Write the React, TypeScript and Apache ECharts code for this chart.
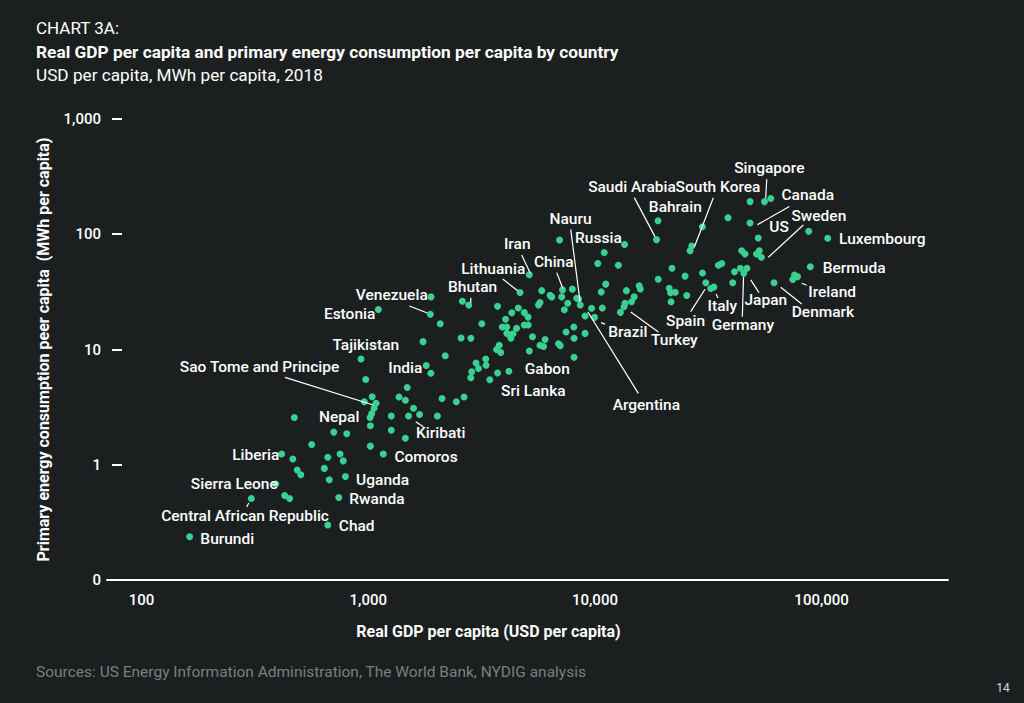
import React, { useEffect, useRef } from "react";
import * as echarts from "echarts";

// ---- data ----
const labeledCountries = [
  "Burundi", "Central African Republic", "Sierra Leone", "Liberia", "Chad", "Rwanda", "Uganda",
  "Comoros", "Nepal", "Sao Tome and Principe", "Kiribati", "Tajikistan", "India", "Estonia",
  "Venezuela", "Bhutan", "Lithuania", "Iran", "China", "Nauru", "Russia", "Gabon", "Sri Lanka",
  "Argentina", "Brazil", "Turkey", "Saudi Arabia", "Bahrain", "South Korea", "Singapore", "Canada",
  "US", "Sweden", "Luxembourg", "Bermuda", "Ireland", "Denmark", "Japan", "Germany", "Italy", "Spain",
];
const labeledGdp = [
  163, 305, 391, 415, 663, 741, 793,
  1165, 1019, 1082, 1506, 929, 1802, 1108,
  1879, 2776, 4674, 5135, 7196, 8612, 13510, 8088, 4171,
  9045, 9958, 13580, 18690, 18980, 26730, 55990, 48330,
  52520, 54200, 106400, 89170, 78300, 61660, 46870, 45380, 33460, 30840,
];
const labeledEnergy = [
  0.237, 0.51, 0.68, 1.24, 0.30, 0.52, 0.79,
  1.24, 2.57, 3.41, 2.65, 8.27, 7.26, 22.2,
  20.2, 24.3, 31.2, 44.6, 32.9, 24.3, 81.5, 8.55, 6.47,
  19.5, 19.0, 25.2, 89.8, 131, 79.1, 192, 125,
  92.9, 63.1, 92.3, 52.3, 42.9, 38.0, 50.7, 45.9, 34.9, 38.0,
];
const otherGdp = [
  428, 450, 465, 486, 504, 472, 563, 640, 663, 751, 776, 673, 705, 804, 1022, 1022, 1036, 1061,
  961, 1041, 975, 1264, 1264, 1367, 1458, 1486, 1584, 1684, 1458, 2018, 2116, 2446, 2646, 1889,
  1745, 2186, 1892, 2078, 2601, 2567, 2836, 2861, 2833, 2989, 3065, 3298, 3308, 3436, 3719, 3168,
  3719, 4035, 3901, 4083, 4510, 4877, 5079, 4088, 4244, 4352, 4256, 4589, 4300, 4882, 5069, 5638,
  5725, 5825, 6339, 6448, 6980, 7138, 7950, 8313, 8467, 7586, 7328, 9661, 10780, 11160, 10660,
  10990, 10290, 12690, 13760, 15680, 15860, 14900, 14500, 13440, 12950, 8071, 7457, 8088, 9045,
  6910, 7030, 6025, 5725, 5934, 5305, 5135, 3784, 3681, 3842, 26280, 29770, 38650, 48330, 59640,
  87730, 44420, 45930, 51620, 53120, 35030, 36260, 29820, 41280, 43790, 32420, 40540, 74570,
  75940, 21880, 24970, 19020, 21270, 21560, 22610, 21670, 25410,
];
const otherEnergy = [
  0.54, 0.51, 1.12, 0.90, 0.82, 2.57, 1.5, 0.93, 1.16, 1.24, 1.08, 0.74, 1.92, 1.86, 1.45, 2.18, 2.78, 3.09,
  3.52, 3.89, 5.49, 2.65, 1.99, 3.87, 3.63, 4.68, 3.09, 2.73, 1.70, 2.65, 3.76, 3.52, 3.87, 6.22,
  11.7, 8.82, 28.6, 16.7, 26.2, 12.6, 12.5, 6.42, 5.69, 7.63, 6.84, 8.27, 7.31, 5.47, 6.25, 16.7,
  23.7, 18.3, 15.7, 15.7, 15.3, 16.3, 16.3, 13.8, 13.2, 13.7, 12.5, 22.9, 20.8, 20.9, 19.1, 24.3,
  25.6, 32.4, 29.5, 28.6, 89.2, 28.6, 33.4, 27.8, 27.4, 25.2, 22.1, 22.8, 22.9, 36.9, 31.6,
  69.5, 55.8, 53.9, 32.4, 35.7, 33.5, 28.7, 26.0, 23.5, 21.0, 15.7, 14.2, 12.5, 13.8,
  11.2, 10.8, 12.2, 10.9, 10.6, 12.9, 9.70, 10.9, 10.0, 9.42, 72.0, 116, 139, 192, 204,
  106, 72.0, 67.5, 67.5, 72.0, 53.8, 55.8, 46.1, 47.3, 50.7, 33.8, 38.0, 40.5,
  44.2, 50.7, 43.3, 40.7, 34.0, 31.1, 31.4, 26.0, 29.4,
];

// ---- label placement (pixel offsets from each point) ----
type LabelCfg = { dx: number; dy: number; align: "left" | "right" | "center"; line?: [number, number, number, number] };
const labelPlacement: Record<string, LabelCfg> = {
  "Burundi": { dx: 10.7, dy: 2.6, align: "left" },
  "Central African Republic": { dx: -6.3, dy: 17.3, align: "center", line: [-2.6, 4.6, -4.6, 8.6] },
  "Sierra Leone": { dx: 2, dy: 0, align: "right" },
  "Liberia": { dx: -2.4, dy: 1, align: "right" },
  "Chad": { dx: 11, dy: 1, align: "left" },
  "Rwanda": { dx: 10.6, dy: 1.3, align: "left" },
  "Uganda": { dx: 10.7, dy: 3.4, align: "left" },
  "Comoros": { dx: 11.1, dy: 3.3, align: "left" },
  "Nepal": { dx: -10.7, dy: -0.2, align: "right" },
  "Sao Tome and Principe": { dx: -36.7, dy: -36.6, align: "right", line: [-91, -26, -2.7, 1.7] },
  "Kiribati": { dx: 7.5, dy: 17, align: "left", line: [7.2, 5.7, 14.8, 10.7] },
  "Tajikistan": { dx: 4.8, dy: -14.3, align: "center" },
  "India": { dx: -3.9, dy: 2.8, align: "right" },
  "Estonia": { dx: -3, dy: 4.6, align: "right" },
  "Venezuela": { dx: -2.6, dy: -19.3, align: "right", line: [-21, -8.3, -3, -1.3] },
  "Bhutan": { dx: 3.8, dy: -17.7, align: "center", line: [2, -7.3, 2, -2.3] },
  "Lithuania": { dx: -26.8, dy: -23.5, align: "center", line: [-17.3, -13.5, -2.3, -1.8] },
  "Iran": { dx: -12.1, dy: -30.4, align: "center", line: [-7.6, -19.7, 0.7, -2] },
  "China": { dx: -8.8, dy: -28, align: "center", line: [-5.8, -17.3, 0.2, -1.7] },
  "Nauru": { dx: -9.7, dy: -86, align: "center", line: [-9.5, -75.7, -0.2, -3.3] },
  "Russia": { dx: -2.8, dy: -6.2, align: "right" },
  "Gabon": { dx: -26.8, dy: 12, align: "center" },
  "Sri Lanka": { dx: 24.5, dy: 19.4, align: "center" },
  "Argentina": { dx: 61.3, dy: 89, align: "center", line: [2.7, -4.3, 53.3, 77.3] },
  "Brazil": { dx: 13.8, dy: 14.2, align: "left", line: [6.5, 5.2, 10.5, 6.8] },
  "Turkey": { dx: 26, dy: 36.7, align: "left", line: [5.7, 8.7, 33.3, 28.7] },
  "Saudi Arabia": { dx: -24.5, dy: -53, align: "center", line: [-22.2, -42, -1.5, -3] },
  "Bahrain": { dx: 17.3, dy: -14, align: "center" },
  "South Korea": { dx: 26.3, dy: -59.3, align: "center", line: [21.6, -48.3, 2.6, 1] },
  "Singapore": { dx: 4.8, dy: -33.4, align: "center", line: [2.2, -22.4, 1.2, -3.4] },
  "Canada": { dx: 57.7, dy: -28, align: "center", line: [39.3, -16.6, 7.3, 1.7] },
  "US": { dx: 11.1, dy: -10.7, align: "left" },
  "Sweden": { dx: 57.5, dy: -41.6, align: "center", line: [42, -32.3, 7, 0] },
  "Luxembourg": { dx: 11.3, dy: 1, align: "left" },
  "Bermuda": { dx: 12.4, dy: 1, align: "left" },
  "Ireland": { dx: 10.8, dy: 15, align: "left", line: [4.2, 6.6, 9.2, 8.6] },
  "Denmark": { dx: 17.7, dy: 29, align: "left", line: [6.7, 4.6, 27.7, 21.3] },
  "Japan": { dx: 18.8, dy: 31.7, align: "center", line: [3.7, 11.7, 12, 24.4] },
  "Germany": { dx: -1, dy: 51.7, align: "center", line: [-0.3, 3.5, -1.5, 43.4] },
  "Italy": { dx: 8.5, dy: 18.7, align: "center", line: [2.2, 7, 4.2, 11] },
  "Spain": { dx: -20.3, dy: 38, align: "center", line: [-0.8, 6.6, -15.1, 29] },
};

const BG = "#1c1f20";
const DOT = "#3ad190";
const FONT = "Roboto, 'Noto Sans', sans-serif";

function fmtThousands(v: number): string {
  return Math.round(v).toString().replace(/\B(?=(\d{3})+(?!\d))/g, ",");
}
function isPow10(v: number): boolean {
  const lg = Math.log10(v);
  return Math.abs(lg - Math.round(lg)) < 1e-6;
}

function txt(text: string, x: number, y: number, font: string, fill: string, align = "left") {
  return {
    type: "text",
    x,
    y,
    silent: true,
    style: {
      text,
      font,
      fill,
      align,
      textAlign: align,
      verticalAlign: "middle",
      textVerticalAlign: "middle",
    },
  };
}

export default function App() {
  const ref = useRef<HTMLDivElement>(null);

  useEffect(() => {
    document.body.style.margin = "0";
    document.body.style.background = BG;
    if (!ref.current) return;
    const chart = echarts.init(ref.current, undefined, { renderer: "svg" });

    const allPoints = [
      ...labeledGdp.map((g, i) => [g, labeledEnergy[i]]),
      ...otherGdp.map((g, i) => [g, otherEnergy[i]]),
    ];
    const labelData = labeledGdp.map((g, i) => ({ name: labeledCountries[i], value: [g, labeledEnergy[i]] }));

    const option: any = {
      animation: false,
      backgroundColor: BG,
      grid: { left: 107, right: 76, top: 119, bottom: 123, containLabel: false },
      xAxis: {
        type: "log",
        logBase: 10,
        min: 70.4,
        max: 361000,
        name: "Real GDP per capita (USD per capita)",
        nameLocation: "middle",
        nameGap: 43,
        nameTextStyle: { color: "#ffffff", fontFamily: FONT, fontWeight: "bold", fontSize: 16, padding: [0, 78, 0, 0] },
        axisLine: { show: true, lineStyle: { color: "#ffffff", width: 2 } },
        axisTick: { show: false },
        splitLine: { show: false },
        minorTick: { show: false },
        axisLabel: {
          color: "#ffffff",
          fontFamily: FONT,
          fontWeight: 500,
          fontSize: 15,
          margin: 12,
          showMinLabel: false,
          showMaxLabel: false,
          formatter: (v: number) => (isPow10(v) ? fmtThousands(v) : ""),
        },
      },
      yAxis: {
        type: "log",
        logBase: 10,
        min: 0.1,
        max: 1000,
        offset: -5,
        name: "Primary energy consumption peer capita  (MWh per capita)",
        nameLocation: "middle",
        nameGap: 61,
        nameTextStyle: { color: "#ffffff", fontFamily: FONT, fontWeight: "bold", fontSize: 16 },
        axisLine: { show: false },
        axisTick: { show: true, inside: true, length: 10, lineStyle: { color: "#ffffff", width: 2 } },
        splitLine: { show: false },
        axisLabel: {
          color: "#ffffff",
          fontFamily: FONT,
          fontWeight: 500,
          fontSize: 15,
          margin: 11,
          formatter: (v: number) => (v < 0.5 ? "0" : fmtThousands(v)),
        },
      },
      graphic: [
        txt("CHART 3A:", 36, 28, `17px ${FONT}`, "#ffffff"),
        txt("Real GDP per capita and primary energy consumption per capita by country", 36, 52, `bold 17.3px ${FONT}`, "#ffffff"),
        txt("USD per capita, MWh per capita, 2018", 36, 75, `17.2px ${FONT}`, "#ffffff"),
        txt("Sources: US Energy Information Administration, The World Bank, NYDIG analysis", 36, 672, `15.5px ${FONT}`, "#7b7e80"),
        txt("14", 1003, 688, `12px ${FONT}`, "#d8d8d8", "center"),
      ],
      series: [
        {
          type: "scatter",
          data: allPoints,
          symbol: "circle",
          symbolSize: 7,
          itemStyle: { color: DOT, opacity: 1 },
          silent: true,
          z: 2,
        },
        {
          type: "custom",
          coordinateSystem: "cartesian2d",
          data: labelData,
          silent: true,
          z: 3,
          clip: false,
          renderItem: (params: any, api: any) => {
            const name = labeledCountries[params.dataIndex];
            const cfg = labelPlacement[name];
            const p = api.coord([api.value(0), api.value(1)]);
            const children: any[] = [];
            if (cfg.line) {
              children.push({
                type: "line",
                shape: { x1: p[0] + cfg.line[0], y1: p[1] + cfg.line[1], x2: p[0] + cfg.line[2], y2: p[1] + cfg.line[3] },
                style: { stroke: "#ffffff", lineWidth: 1.2 },
              });
            }
            children.push({
              type: "text",
              x: p[0] + cfg.dx,
              y: p[1] + cfg.dy,
              style: {
                text: name,
                fill: "#ffffff",
                font: `500 15.5px ${FONT}`,
                align: cfg.align,
                textAlign: cfg.align,
                verticalAlign: "middle",
                textVerticalAlign: "middle",
              },
            });
            return { type: "group", children };
          },
        },
      ],
    };

    chart.setOption(option);
    return () => chart.dispose();
  }, []);

  return <div ref={ref} style={{ width: 1024, height: 703, background: BG }} />;
}
